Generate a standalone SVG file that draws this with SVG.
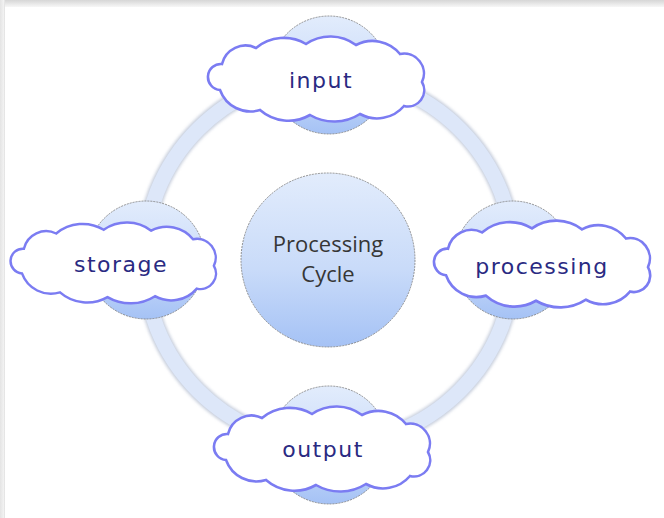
<svg xmlns="http://www.w3.org/2000/svg" width="664" height="518" viewBox="0 0 664 518">
<defs>
<linearGradient id="topEdge" x1="0" y1="0" x2="0" y2="1"><stop offset="0" stop-color="#d6d6d6"/><stop offset="1" stop-color="#f7f7f7"/></linearGradient>
<linearGradient id="leftEdge" x1="0" y1="0" x2="1" y2="0"><stop offset="0" stop-color="#e4e4e4"/><stop offset="0.8" stop-color="#f3f3f3"/><stop offset="1" stop-color="#d8d8d8"/></linearGradient>
<linearGradient id="ball" x1="0" y1="0" x2="0" y2="1"><stop offset="0" stop-color="#e2ecfc"/><stop offset="0.55" stop-color="#c9dbf9"/><stop offset="1" stop-color="#a5c2f5"/></linearGradient>
<filter id="soft" x="-20%" y="-20%" width="140%" height="140%"><feGaussianBlur stdDeviation="1.5"/></filter>
<path id="cloud" d="M -100 12 A 13 13 0 0 1 -98 -14 A 24.1 24.1 0 0 1 -64 -30 A 43.4 43.4 0 0 1 -14 -34 A 43 43 0 0 1 36 -33 A 35.6 35.6 0 0 1 80 -24 A 19.9 19.9 0 0 1 102 4 A 16.3 16.3 0 0 1 84 28 A 35.4 35.4 0 0 1 40 36 A 48 48 0 0 1 -10 37 A 43.4 43.4 0 0 1 -60 32 A 32.4 32.4 0 0 1 -100 12 Z"/>
</defs>
<style>
.ball{fill:url(#ball);stroke:#7a7a7a;stroke-width:0.8;stroke-dasharray:2 1}
.cloud{fill:#ffffff;stroke:#7b7cf2;stroke-width:2.6;vector-effect:non-scaling-stroke}
.lbl{font-family:"DejaVu Sans",sans-serif;font-size:22px;letter-spacing:1.5px;fill:#2a2a82;text-anchor:middle}
.center{font-family:"Open Sans","Liberation Sans",sans-serif;font-size:22px;fill:#363636;text-anchor:middle}
</style>
<rect width="664" height="518" fill="#ffffff"/>
<rect x="0" y="0" width="664" height="7" fill="url(#topEdge)"/>
<rect x="0" y="0" width="5" height="518" fill="url(#leftEdge)"/>
<g id="connectors">
<circle cx="329" cy="260" r="185" fill="none" stroke="#b9c2d4" stroke-width="18" filter="url(#soft)" opacity="0.8"/>
<circle cx="329" cy="260" r="185" fill="none" stroke="#dde7f9" stroke-width="15"/>
</g>
<g id="center-node">
<circle class="ball" cx="328" cy="260" r="87"/>
<text class="center" x="328" y="252">Processing</text>
<text class="center" x="328" y="282">Cycle</text>
</g>
<g id="node-input">
<circle class="ball" cx="329" cy="75" r="59"/>
<use href="#cloud" class="cloud" transform="translate(320,78)"/>
<text class="lbl" x="321" y="88">input</text>
</g>
<g id="node-storage">
<circle class="ball" cx="146" cy="260" r="59"/>
<use href="#cloud" class="cloud" transform="translate(117,262) scale(0.95)"/>
<text class="lbl" x="121" y="272">storage</text>
</g>
<g id="node-processing">
<circle class="ball" cx="513" cy="260" r="59"/>
<use href="#cloud" class="cloud" transform="translate(546,263) scale(1,1.02)"/>
<text class="lbl" x="542" y="274">processing</text>
</g>
<g id="node-output">
<circle class="ball" cx="329" cy="445" r="59"/>
<use href="#cloud" class="cloud" transform="translate(326,448)"/>
<text class="lbl" x="323" y="457">output</text>
</g>
</svg>
